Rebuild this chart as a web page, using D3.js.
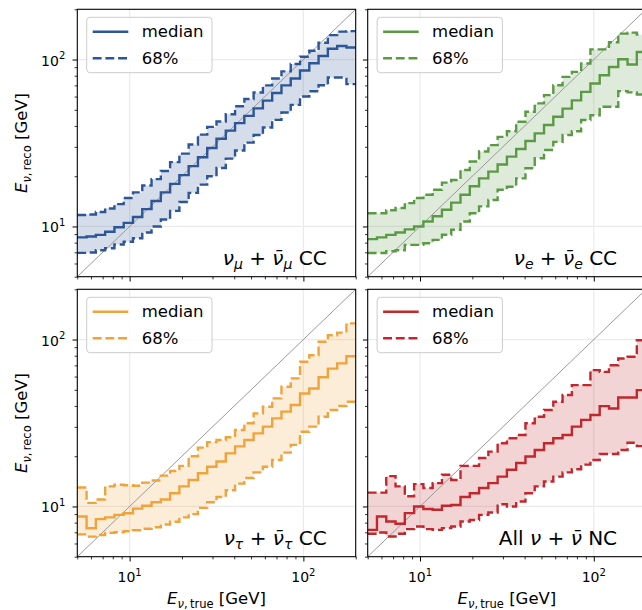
<!DOCTYPE html>
<html><head><meta charset="utf-8">
<script src="https://cdn.jsdelivr.net/npm/d3@7"></script>
<style>body{margin:0;background:#fff}svg{display:block;font-family:"DejaVu Sans",sans-serif}</style>
</head><body>
<svg id="c" width="642" height="610"></svg>
<script>
// ---- data ----
const binEdges = [5.000, 5.654, 6.394, 7.231, 8.177, 9.247, 10.457, 11.826, 13.373, 15.123, 17.100, 19.339, 21.868, 24.730, 27.966, 31.623, 35.761, 40.440, 45.731, 51.714, 58.481, 66.133, 74.786, 84.572, 95.635, 108.15, 122.30, 138.30, 156.40, 176.86, 200.00];

const numuMedian = [8.6, 8.7, 8.9, 9.3, 9.9, 10.5, 11.4, 12.7, 14.2, 16.0, 18.0, 20.3, 23.0, 26.0, 29.5, 33.5, 37.5, 41.6, 46.0, 51.0, 56.7, 63.0, 70.0, 77.0, 86.0, 95.0, 105.0, 116.0, 120.6, 118.0];
const numuUpper  = [11.7, 11.8, 12.2, 12.8, 13.6, 14.8, 16.0, 17.6, 19.2, 21.5, 24.3, 27.3, 31.0, 35.5, 39.5, 42.5, 47.0, 52.5, 58.0, 63.5, 70.0, 77.0, 85.0, 94.0, 104.0, 113.0, 126.0, 140.0, 147.0, 148.0];
const numuLower  = [6.95, 6.98, 7.2, 7.4, 7.8, 8.1, 8.5, 9.2, 10.0, 11.0, 12.4, 14.0, 15.9, 17.8, 20.0, 22.4, 25.5, 28.5, 31.8, 35.3, 39.2, 43.5, 48.2, 53.5, 60.0, 64.6, 70.2, 78.0, 78.0, 71.2];

const nueMedian = [8.4, 8.6, 8.9, 9.2, 9.6, 10.0, 10.7, 11.5, 12.6, 13.9, 15.5, 17.4, 19.4, 21.3, 23.5, 26.2, 29.1, 32.5, 36.1, 40.5, 45.4, 50.8, 56.9, 64.0, 71.8, 80.5, 90.3, 100.4, 93.3, 111.0];
const nueUpper  = [12.0, 12.0, 12.5, 12.9, 13.8, 14.8, 15.5, 16.6, 18.3, 19.0, 21.8, 24.5, 28.1, 30.7, 34.4, 37.2, 42.4, 48.7, 54.6, 61.2, 70.2, 78.7, 84.4, 94.6, 115.0, 115.0, 127.0, 143.0, 145.0, 141.0];
const nueLower  = [6.93, 6.93, 7.1, 7.2, 7.76, 7.76, 7.94, 8.31, 8.91, 9.55, 10.7, 12.0, 13.2, 14.4, 16.6, 17.3, 19.4, 22.3, 25.6, 28.7, 32.1, 35.3, 37.2, 43.4, 46.4, 52.1, 52.1, 64.7, 63.6, 61.8];

const nutauMedian = [8.7, 7.4, 8.4, 8.6, 8.9, 9.1, 9.7, 10.1, 10.6, 11.0, 12.0, 13.2, 14.4, 15.8, 17.3, 18.6, 20.8, 22.9, 25.0, 27.4, 30.1, 33.7, 37.0, 40.5, 47.5, 50.9, 59.5, 67.0, 72.0, 79.5];
const nutauUpper  = [13.0, 10.5, 11.0, 13.2, 13.5, 13.4, 13.3, 13.9, 14.3, 15.3, 16.3, 17.5, 20.0, 22.5, 24.3, 25.0, 26.0, 28.7, 31.5, 36.1, 39.6, 44.4, 52.1, 58.5, 73.6, 80.6, 97.0, 106.0, 110.0, 125.0];
const nutauLower  = [6.8, 6.6, 6.75, 6.95, 7.0, 7.1, 7.2, 7.35, 7.5, 7.8, 8.1, 8.6, 9.0, 9.8, 10.6, 11.4, 12.5, 13.7, 14.8, 16.0, 17.3, 19.0, 21.0, 23.4, 28.0, 30.1, 34.5, 37.8, 40.0, 42.4];

const ncMedian = [7.24, 8.7, 8.13, 7.87, 9.12, 10.0, 9.65, 9.55, 10.1, 10.2, 11.4, 12.0, 12.9, 13.8, 15.1, 16.6, 18.2, 19.9, 21.8, 23.9, 25.6, 26.8, 30.1, 33.0, 35.3, 39.9, 38.6, 45.0, 45.0, 49.8];
const ncUpper  = [12.1, 12.1, 15.2, 13.2, 11.5, 13.6, 12.9, 13.8, 15.5, 14.4, 17.5, 17.5, 19.5, 21.3, 23.9, 25.6, 26.8, 31.5, 34.5, 37.8, 42.4, 46.5, 53.3, 53.3, 65.6, 64.0, 70.2, 77.0, 78.8, 99.0];
const ncLower  = [6.86, 6.98, 6.61, 6.86, 7.31, 7.59, 7.31, 7.24, 7.42, 7.59, 8.13, 8.3, 8.9, 9.2, 10.3, 10.0, 10.7, 12.0, 13.2, 14.1, 15.1, 16.0, 16.7, 17.8, 19.0, 20.6, 20.6, 21.8, 24.1, 23.0];

const axisDomain = [5, 200];
const majorTicks = [10, 100];
const majorTickExp = ["1", "2"];
const minorTicks = [5, 6, 7, 8, 9, 20, 30, 40, 50, 60, 70, 80, 90, 200];
const legendLabels = ["median", "68%"];

// ---- layout ----
const svg = d3.select("#c");
const LEFTS = [77.3, 367.7], TOPS = [9.3, 289.3], W = 278.4, H = 267.4;
const FS_TICK = 14, FS_LAB = 16.5, FS_LEG = 16.5, FS_TXT = 20;

const panels = [
  {col:0,row:0,color:"#2c5697",med:numuMedian,hi:numuUpper,lo:numuLower,
   label:[["ν","it"],["μ","sub"],[" + ",""],["ν̄","it"],["μ","sub"],[" CC",""]]},
  {col:1,row:0,color:"#5b9a45",med:nueMedian,hi:nueUpper,lo:nueLower,
   label:[["ν","it"],["e","sub"],[" + ",""],["ν̄","it"],["e","sub"],[" CC",""]]},
  {col:0,row:1,color:"#f0a33a",med:nutauMedian,hi:nutauUpper,lo:nutauLower,
   label:[["ν","it"],["τ","sub"],[" + ",""],["ν̄","it"],["τ","sub"],[" CC",""]]},
  {col:1,row:1,color:"#c1272d",med:ncMedian,hi:ncUpper,lo:ncLower,
   label:[["All ",""],["ν","it"],[" + ",""],["ν̄","it"],[" NC",""]]}
];

function rich(sel, parts, base, subSize, subDy){
  let cur = 0;
  parts.forEach(p => {
    const t = sel.append("tspan").text(p[0]);
    const isSub = p[1] === "sub" || p[1] === "subup";
    if (p[1] === "it" || p[1] === "sub") t.attr("font-style","italic");
    const target = isSub ? subDy : 0;
    t.attr("font-size", isSub ? subSize : base);
    if (target !== cur) { t.attr("dy", target - cur); cur = target; }
  });
}

panels.forEach((p, i) => {
  const x0 = LEFTS[p.col], y0 = TOPS[p.row];
  const x = d3.scaleLog().domain(axisDomain).range([x0, x0 + W]);
  const y = d3.scaleLog().domain(axisDomain).range([y0 + H, y0]);
  const g = svg.append("g");
  const clipId = "clip" + i;
  svg.append("clipPath").attr("id", clipId).append("rect")
    .attr("x", x0).attr("y", y0).attr("width", W).attr("height", H);
  const inner = g.append("g").attr("clip-path", `url(#${clipId})`);

  // grid
  inner.selectAll(".gx").data(majorTicks).enter().append("line")
    .attr("x1", d => x(d)).attr("x2", d => x(d)).attr("y1", y0).attr("y2", y0 + H)
    .attr("stroke", "#ebebeb").attr("stroke-width", 1.2);
  inner.selectAll(".gy").data(majorTicks).enter().append("line")
    .attr("y1", d => y(d)).attr("y2", d => y(d)).attr("x1", x0).attr("x2", x0 + W)
    .attr("stroke", "#ebebeb").attr("stroke-width", 1.2);

  const n = p.med.length;
  const pts = (arr) => binEdges.map((e, k) => ({e, v: arr[Math.min(k, n - 1)]}));
  const band = binEdges.map((e, k) => ({e, lo: p.lo[Math.min(k, n - 1)], hi: p.hi[Math.min(k, n - 1)]}));

  inner.append("path").datum(band)
    .attr("d", d3.area().curve(d3.curveStepAfter).x(d => x(d.e)).y0(d => y(d.lo)).y1(d => y(d.hi)))
    .attr("fill", p.color).attr("fill-opacity", 0.2);

  inner.append("line")
    .attr("x1", x(axisDomain[0])).attr("y1", y(axisDomain[0]))
    .attr("x2", x(axisDomain[1])).attr("y2", y(axisDomain[1]))
    .attr("stroke", "#999999").attr("stroke-width", 1);

  const line = d3.line().curve(d3.curveStepAfter).x(d => x(d.e)).y(d => y(d.v));
  [p.hi, p.lo].forEach(arr => {
    inner.append("path").datum(pts(arr)).attr("d", line)
      .attr("fill", "none").attr("stroke", p.color).attr("stroke-width", 2.4)
      .attr("stroke-dasharray", "8.9,3.8");
  });
  inner.append("path").datum(pts(p.med)).attr("d", line)
    .attr("fill", "none").attr("stroke", p.color).attr("stroke-width", 2.4);

  // axes
  const ax = (gen, tx, ty, vals, size, sw) => {
    const a = g.append("g").attr("transform", `translate(${tx},${ty})`)
      .call(gen.tickValues(vals).tickSize(size).tickFormat(""));
    a.select(".domain").remove();
    a.selectAll("line").attr("stroke", "#000").attr("stroke-width", sw);
  };
  ax(d3.axisBottom(x), 0, y0 + H, majorTicks, 4.8, 1);
  ax(d3.axisBottom(x), 0, y0 + H, minorTicks, 2.7, 0.8);
  ax(d3.axisLeft(y), x0, 0, majorTicks, 4.8, 1);
  ax(d3.axisLeft(y), x0, 0, minorTicks, 2.7, 0.8);

  g.append("rect").attr("x", x0).attr("y", y0).attr("width", W).attr("height", H)
    .attr("fill", "none").attr("stroke", "#000").attr("stroke-width", 1.1);

  if (p.col === 0) {
    majorTicks.forEach((t, j) => {
      const tx = g.append("text").attr("x", x0 - 12).attr("y", y(t) + 6)
        .attr("text-anchor", "end").attr("font-size", FS_TICK);
      tx.append("tspan").text("10");
      tx.append("tspan").attr("font-size", 10).attr("dy", -6.5).text(majorTickExp[j]);
    });
  }
  if (p.row === 1) {
    majorTicks.forEach((t, j) => {
      const tx = g.append("text").attr("x", x(t)).attr("y", y0 + H + 25.3)
        .attr("text-anchor", "middle").attr("font-size", FS_TICK);
      tx.append("tspan").text("10");
      tx.append("tspan").attr("font-size", 10).attr("dy", -6.5).text(majorTickExp[j]);
    });
    const xl = g.append("text").attr("x", x0 + W / 2).attr("y", 604)
      .attr("text-anchor", "middle").attr("font-size", FS_LAB);
    rich(xl, [["E","it"],["ν","sub"],[",\u2009true","subup"],[" [GeV]",""]], FS_LAB, 11.5, 3.6);
  }
  if (p.col === 0) {
    const yl = g.append("text").attr("transform", `translate(27,${y0 + H / 2}) rotate(-90)`)
      .attr("text-anchor", "middle").attr("font-size", FS_LAB);
    rich(yl, [["E","it"],["ν","sub"],[",\u2009reco","subup"],[" [GeV]",""]], FS_LAB, 11.5, 3.6);
  }

  // legend
  const lg = g.append("g").attr("transform", `translate(${x0},${y0})`);
  lg.append("rect").attr("x", 9.4).attr("y", 8).attr("width", 125.3).attr("height", 55.4)
    .attr("rx", 3.5).attr("fill", "#fff").attr("fill-opacity", 0.8)
    .attr("stroke", "#cccccc").attr("stroke-width", 1);
  [22.4, 49].forEach((ly, j) => {
    lg.append("line").attr("x1", 15.4).attr("x2", 51).attr("y1", ly).attr("y2", ly)
      .attr("stroke", p.color).attr("stroke-width", 2.4)
      .attr("stroke-dasharray", j === 1 ? "8.9,3.8" : null);
    lg.append("text").attr("x", 64.4).attr("y", ly + 5.8).attr("font-size", FS_LEG)
      .text(legendLabels[j]);
  });

  // panel label
  const pl = g.append("text").attr("x", x0 + W - 29).attr("y", y0 + H - 11.5)
    .attr("text-anchor", "end").attr("font-size", FS_TXT);
  rich(pl, p.label, FS_TXT, 14, 4);
});
</script>
</body></html>
